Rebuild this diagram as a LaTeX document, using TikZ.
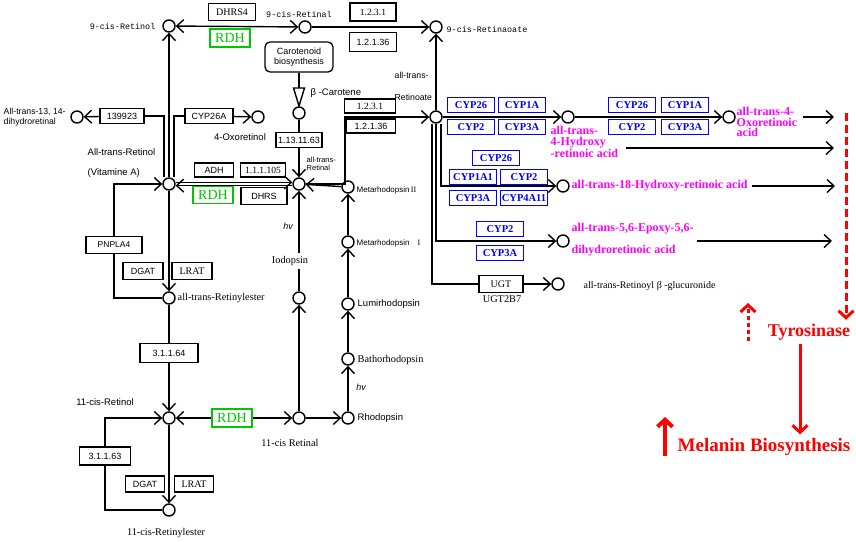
\documentclass[tikz,border=0pt]{standalone}
\usepackage{fontspec}
\setmainfont{Liberation Serif}
\setsansfont{Liberation Sans}
\setmonofont{Liberation Mono}
\usepackage{tikz}
\usetikzlibrary{arrows.meta}

\definecolor{rdhgreen}{RGB}{0,200,0}
\definecolor{cypblue}{RGB}{0,0,255}
\definecolor{acidmagenta}{RGB}{255,0,255}
\definecolor{hlred}{RGB}{255,0,0}

\begin{document}
\begin{tikzpicture}[x=1pt, y=-1pt, line width=1.4pt,
	>={Straight Barb[length=7pt, width=13pt]},
	met/.style={shape=circle, draw=black, minimum size=12pt, inner sep=0pt, line width=1.4pt},
	enz/.style={draw=black, fill=white, line width=1.3pt, inner sep=0pt, minimum height=15pt, font=\sffamily\fontsize{9}{10}\selectfont},
	enzs/.style={enz, font=\fontsize{10}{11}\selectfont},
	rdh/.style={draw=rdhgreen, text=rdhgreen, line width=1.6pt, inner sep=0pt, minimum width=40pt, minimum height=18pt, font=\fontsize{14}{14}\selectfont},
	cyp/.style={draw=cypblue, text=cypblue, line width=1.6pt, inner sep=0pt, minimum width=47pt, minimum height=15pt, font=\bfseries\fontsize{10.5}{11}\selectfont},
	acid/.style={text=acidmagenta, align=left, inner sep=0pt, font=\bfseries\fontsize{12}{10.5}\selectfont},
	lbl/.style={inner sep=1pt, font=\sffamily\fontsize{9.5}{10.5}\selectfont},
	slbl/.style={inner sep=1pt, font=\fontsize{10.3}{11}\selectfont},
	mlbl/.style={inner sep=1pt, font=\ttfamily\fontsize{8.4}{10}\selectfont},
	hl/.style={draw=hlred, line width=3pt, >={Straight Barb[length=7pt, width=15pt]}}]
	\useasboundingbox (0,0) rectangle (856,541);

	\node[met] (r9cisRol) at (169, 26) {};
	\node[met] (r9cisRal) at (305, 27) {};
	\node[met] (r9cisRoate) at (436, 27) {};
	\node[met] (bCar) at (299, 113) {};
	\node[met] (atRol) at (169, 184) {};
	\node[met] (atRal) at (299, 184) {};
	\node[met] (dihydro) at (77, 117) {};
	\node[met] (oxoRol) at (258, 117) {};
	\node[met] (atRoate) at (436, 117) {};
	\node[met] (metaII) at (348, 187) {};
	\node[met] (metaI) at (348, 242) {};
	\node[met] (lumi) at (348, 304) {};
	\node[met] (batho) at (348, 359) {};
	\node[met] (rhod) at (348, 418) {};
	\node[met] (r11cisRal) at (299, 418) {};
	\node[met] (iodo) at (299, 298) {};
	\node[met] (r11cisRol) at (169, 418) {};
	\node[met] (atEster) at (169, 298) {};
	\node[met] (r11cisEster) at (169, 510) {};
	\node[met] (hydroxy) at (568, 117) {};
	\node[met] (oxoRoate) at (729, 117) {};
	\node[met] (hydroxy18) at (563, 186) {};
	\node[met] (epoxy) at (563, 241) {};
	\node[met] (glucu) at (558, 284) {};

	\node[enzs, minimum width=47pt, minimum height=17pt] (dhrs4) at (232, 12) {DHRS4};
	\node[rdh] (rdhA) at (230, 38) {RDH};
	\node[enzs, minimum width=46pt, minimum height=18pt, font=\fontsize{9.5}{10}\selectfont] (ec1231a) at (373, 12) {1.2.3.1};
	\node[enz, minimum width=47pt, minimum height=19pt] (ec12136a) at (373, 42) {1.2.1.36};
	\node[enz, rounded corners=5pt, minimum width=68pt, minimum height=30pt, align=center] (carot) at (299, 57) {Carotenoid\\biosynthesis};
	\node[enz, minimum width=46pt] (ec113) at (299, 140) {1.13.11.63};
	\node[enzs, minimum width=51pt, minimum height=14pt, font=\fontsize{9.5}{10}\selectfont] (ec1231b) at (370, 106) {1.2.3.1};
	\node[enz, minimum width=49pt, minimum height=14pt] (ec12136b) at (371, 126) {1.2.1.36};
	\node[enz, minimum width=44pt] (ec139) at (122, 116) {139923};
	\node[enz, minimum width=48pt] (cyp26a) at (209, 116) {CYP26A};
	\node[enz, minimum width=39pt, minimum height=14pt] (adh) at (214, 170) {ADH};
	\node[enzs, minimum width=45pt, minimum height=14pt, font=\fontsize{9.5}{10}\selectfont] (ec11105) at (263, 170) {1.1.1.105};
	\node[rdh, minimum height=17pt] (rdhB) at (213, 195) {RDH};
	\node[enz, minimum width=46pt, minimum height=17pt] (dhrs) at (264, 196) {DHRS};
	\node[enz, minimum width=56pt, minimum height=17pt, font=\sffamily\fontsize{8.5}{10}\selectfont] (pnpla4) at (114, 245) {PNPLA4};
	\node[enz, minimum width=40pt, minimum height=17pt] (dgatA) at (143, 271) {DGAT};
	\node[enzs, minimum width=40pt, minimum height=17pt] (lratA) at (192, 271) {LRAT};
	\node[enz, minimum width=58pt, minimum height=19pt] (ec64) at (169, 353) {3.1.1.64};
	\node[rdh] (rdhC) at (232, 418) {RDH};
	\node[enz, minimum width=51pt, minimum height=18pt] (ec63) at (105, 456) {3.1.1.63};
	\node[enz, minimum width=39pt, minimum height=16pt] (dgatB) at (145, 484) {DGAT};
	\node[enzs, minimum width=39pt, minimum height=16pt] (lratB) at (194, 484) {LRAT};
	\node[enzs, minimum width=44pt, minimum height=17pt] (ugt) at (501, 284) {UGT};

	\node[cyp] (cyp26x) at (471, 105) {CYP26};
	\node[cyp] (cyp1ax) at (522, 105) {CYP1A};
	\node[cyp] (cyp2x) at (471, 127) {CYP2};
	\node[cyp] (cyp3ax) at (522, 127) {CYP3A};
	\node[cyp] (cyp26y) at (632, 105) {CYP26};
	\node[cyp] (cyp1ay) at (685, 105) {CYP1A};
	\node[cyp] (cyp2y) at (632, 127) {CYP2};
	\node[cyp] (cyp3ay) at (685, 127) {CYP3A};
	\node[cyp] (cyp26z) at (496, 158) {CYP26};
	\node[cyp] (cyp1a1z) at (473, 177) {CYP1A1};
	\node[cyp] (cyp2z) at (524, 177) {CYP2};
	\node[cyp] (cyp3az) at (473, 198) {CYP3A};
	\node[cyp] (cyp4a11z) at (524, 198) {CYP4A11};
	\node[cyp] (cyp2w) at (500, 229) {CYP2};
	\node[cyp] (cyp3aw) at (500, 253) {CYP3A};

	\node[mlbl, anchor=east] (l9cisRol) at (157, 26) {9-cis-Retinol};
	\node[mlbl] (l9cisRal) at (299, 14) {9-cis-Retinal};
	\node[mlbl, anchor=west] (l9cisRoate) at (445, 29) {9-cis-Retinaoate};
	\node[lbl, anchor=west] (lbCar) at (309, 93) {β -Carotene};
	\node[lbl, anchor=west, align=left, font=\sffamily\fontsize{7.5}{8.5}\selectfont] (latRal) at (305, 164) {all-trans-\\Retinal};
	\node[lbl, anchor=west] (latRol) at (86, 152) {All-trans-Retinol};
	\node[lbl, anchor=west] (lvitA) at (86, 173) {(Vitamine A)};
	\node[lbl, anchor=west, align=left, font=\sffamily\fontsize{8.7}{10}\selectfont] (ldihydro) at (2, 117) {All-trans-13, 14-\\dihydroretinal};
	\node[lbl] (loxoRol) at (240, 137) {4-Oxoretinol};
	\node[lbl, anchor=west, font=\sffamily\fontsize{8.7}{10}\selectfont] (latRoate1) at (393, 75) {all-trans-};
	\node[lbl, anchor=west, font=\sffamily\fontsize{8.7}{10}\selectfont] (latRoate2) at (393, 97) {Retinoate};
	\node[lbl, anchor=west, font=\sffamily\fontsize{8}{9}\selectfont] (lmetaII) at (355, 190) {Metarhodopsin\,{\rmfamily II}};
	\node[lbl, anchor=west, font=\sffamily\fontsize{8}{9}\selectfont] (lmetaI) at (355, 243) {Metarhodopsin\quad{\rmfamily I}};
	\node[lbl, anchor=west] (llumi) at (356, 304) {Lumirhodopsin};
	\node[slbl, anchor=west] (lbatho) at (356, 360) {Bathorhodopsin};
	\node[lbl, anchor=west] (lrhod) at (356, 418) {Rhodopsin};
	\node[lbl, font=\sffamily\itshape\fontsize{9}{10}\selectfont] (hv1) at (288, 226) {hv};
	\node[lbl, font=\sffamily\itshape\fontsize{9}{10}\selectfont] (hv2) at (361, 387) {hv};
	\node[slbl, inner ysep=3pt] (liodo) at (290, 261) {Iodopsin};
	\node[slbl] (l11cisRal) at (290, 443) {11-cis Retinal};
	\node[lbl] (l11cisRol) at (105, 402) {11-cis-Retinol};
	\node[slbl, anchor=west] (latEster) at (176, 298) {all-trans-Retinylester};
	\node[slbl] (l11cisEster) at (166, 533) {11-cis-Retinylester};
	\node[slbl] (lugt) at (502, 299) {UGT2B7};
	\node[slbl, anchor=west, font=\fontsize{10}{10}\selectfont] (lglucu) at (582, 286) {all-trans-Retinoyl β -glucuronide};

	\node[acid, anchor=west] (lhydroxy) at (550, 142) {all-trans-\\4-Hydroxy\\-retinoic acid};
	\node[acid, anchor=west] (loxoRoate) at (736, 122) {all-trans-4-\\Oxoretinoic\\acid};
	\node[acid, anchor=west] (lhydroxy18) at (571, 186) {all-trans-18-Hydroxy-retinoic acid};
	\node[acid, anchor=west, font=\bfseries\fontsize{12}{22}\selectfont] (lepoxy) at (571, 240) {all-trans-5,6-Epoxy-5,6-\\dihydroretinoic acid};

	\node[text=hlred, font=\bfseries\fontsize{18}{20}\selectfont] (tyr) at (809, 332) {Tyrosinase};
	\node[text=hlred, font=\bfseries\fontsize{19}{21}\selectfont] (melanin) at (764, 447) {Melanin Biosynthesis};

	\coordinate (tri) at (299, 88);
	\coordinate (bend) at (345, 117);
	\coordinate (t1s) at (803, 117);
	\coordinate (t1) at (834, 117);
	\coordinate (t2s) at (626, 148);
	\coordinate (t2) at (834, 148);
	\coordinate (t3) at (835, 186);
	\coordinate (t4s) at (697, 241);
	\coordinate (t4) at (832, 241);
	\coordinate (tyrIn) at (846, 113);
	\coordinate (dotA) at (748, 341);
	\coordinate (dotB) at (748, 303);
	\coordinate (tyrOut) at (800, 0);
	\coordinate (upA) at (665, 456);
	\coordinate (upB) at (665, 417);

	\path [<->] (r9cisRol) edge (r9cisRal);
	\path [->] (r9cisRal) edge (r9cisRoate);
	\path [->] (atRol) edge (r9cisRol);
	\path [->] (atRoate) edge (r9cisRoate);

	\draw ([xshift=-5pt]atRol.north) |- (ec139);
	\path [->] (ec139) edge (dihydro);
	\draw ([xshift=5pt]atRol.north) |- (cyp26a);
	\path [->] (cyp26a) edge (oxoRol);

	\draw (carot) -- (tri);
	\draw (tri) ++(-5.5, 0) -- ++(11, 0) -- ++(-5.5, 18) -- cycle;
	\draw (bCar) -- (ec113);
	\path [->] (ec113) edge (atRal);

	\draw [->] ([yshift=1.6pt]atRol.east) -- ([yshift=1.6pt]atRal.west);
	\draw [->] ([yshift=-1.6pt]atRal.west) -- ([yshift=-1.6pt]atRol.east);
	\draw [->] (atRal) -| (bend) -- (atRoate);

	\path [->] (atRoate) edge (hydroxy);
	\path [->] (hydroxy) edge (oxoRoate);
	\draw [->] ([xshift=5pt]atRoate.south) |- (hydroxy18);
	\draw [->] (atRoate.south) |- (epoxy);
	\draw ([xshift=-4pt]atRoate.south) |- (ugt);
	\path [->] (ugt) edge (glucu);

	\draw [->] (t1s) -- (t1);
	\draw [->] (t2s) -- (t2);
	\draw [->] ([xshift=4pt]lhydroxy18.east) -- (t3);
	\draw [->] (t4s) -- (t4);

	\path [->] (r11cisRal) edge (iodo);
	\draw (iodo) -- (liodo.south -| iodo);
	\draw [->] (liodo.north -| iodo) -- (atRal);
	\path [->] (r11cisRal) edge (rhod);
	\path [->] (rhod) edge (batho);
	\path [->] (batho) edge (lumi);
	\path [->] (lumi) edge (metaI);
	\path [->] (metaI) edge (metaII);
	\path [->] (metaII) edge (atRal);

	\path [->] (atRol) edge (atEster);
	\draw (atEster) -| (pnpla4);
	\draw [->] (pnpla4) |- (atRol);
	\draw (atEster) -- (ec64);
	\path [->] (ec64) edge (r11cisRol);
	\path [->] (rdhC) edge (r11cisRol);
	\path [->] (rdhC) edge (r11cisRal);
	\path [->] (r11cisRol) edge (r11cisEster);
	\draw (r11cisEster) -| (ec63);
	\draw [->] (ec63) |- (r11cisRol);

	\draw [hl, dash pattern=on 8pt off 4pt, ->] (tyrIn) -- (tyrIn |- tyr.north);
	\draw [hl, dash pattern=on 4pt off 3pt, ->] (dotA) -- (dotB);
	\draw [hl, ->] (tyr.south -| tyrOut) -- (melanin.north -| tyrOut);
	\draw [hl, ->, line width=4pt] (upA) -- (upB);

\end{tikzpicture}
\end{document}
